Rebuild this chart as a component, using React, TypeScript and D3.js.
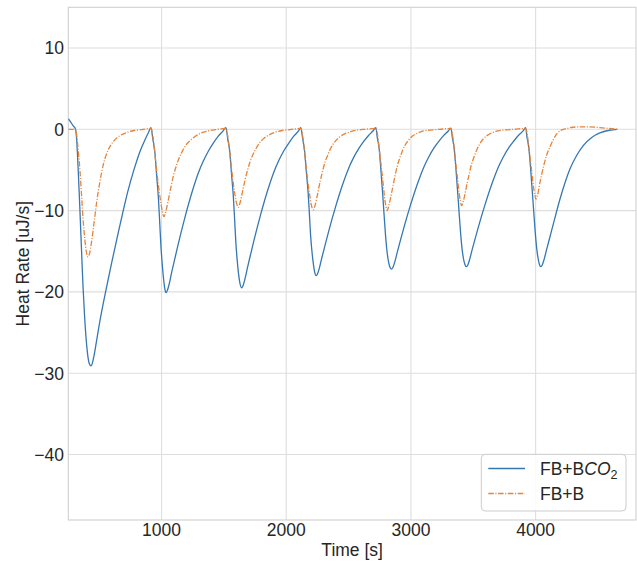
import React from "react";
import * as d3 from "d3";

// ---------- data ----------
const seriesNames = ["FB+BCO2", "FB+B"];

const timeBCO2: number[] = [
  252, 270, 290, 310, 320, 330, 340, 350, 360, 370, 382, 395, 408, 420, 434, 446, 459, 480, 504, 530, 551, 600, 650, 688, 730, 780, 830, 870, 895, 915,
  930, 947, 960, 974, 985, 995, 1005, 1014, 1024, 1035, 1047, 1060, 1081, 1105, 1134, 1188, 1241, 1294, 1335, 1375, 1415, 1455, 1490, 1516,
  1531, 1548, 1561, 1575, 1586, 1596, 1606, 1616, 1628, 1642, 1654, 1667, 1688, 1712, 1741, 1795, 1848, 1901, 1942, 1982, 2022, 2062, 2097, 2117,
  2131, 2148, 2161, 2175, 2186, 2196, 2206, 2216, 2227, 2240, 2252, 2265, 2286, 2310, 2339, 2393, 2446, 2499, 2540, 2580, 2620, 2660, 2695, 2719,
  2729, 2746, 2760, 2773, 2785, 2797, 2808, 2818, 2830, 2845, 2857, 2870, 2891, 2915, 2944, 2998, 3051, 3104, 3145, 3185, 3225, 3265, 3300, 3321,
  3331, 3348, 3362, 3375, 3387, 3399, 3410, 3420, 3432, 3445, 3457, 3470, 3491, 3515, 3544, 3598, 3651, 3704, 3745, 3785, 3825, 3865, 3900, 3920,
  3930, 3947, 3961, 3974, 3986, 3998, 4009, 4019, 4030, 4042, 4054, 4067, 4088, 4112, 4141, 4195, 4235, 4275, 4330, 4382, 4450, 4515, 4590, 4655,
];
const heatBCO2: number[] = [
  1.3, 0.9, 0.45, 0.0, -1.5, -4.5, -8.0, -11.8, -15.6, -19.3, -22.8, -25.8, -27.8, -28.8, -29.1, -28.7, -27.8, -25.9, -23.7, -21.6, -20.0, -16.4, -12.9, -10.3, -7.6, -4.9, -2.6, -1.2, -0.4, 0.2,
  -1.2, -2.95, -5.6, -8.3, -11.4, -14.4, -16.5, -18.1, -19.4, -20.1, -19.8, -19.1, -17.6, -16.0, -14.1, -10.8, -7.9, -5.4, -3.9, -2.7, -1.7, -0.85, -0.25, 0.2,
  -1.2, -2.9, -5.5, -8.1, -11.1, -14.0, -16.0, -17.6, -18.9, -19.5, -19.21, -18.53, -17.08, -15.52, -13.67, -10.47, -7.66, -5.25, -3.78, -2.61, -1.66, -0.82, -0.23, 0.2,
  -1.1, -2.8, -5.2, -7.7, -10.5, -13.2, -15.0, -16.4, -17.5, -18.0, -17.73, -17.1, -15.77, -14.33, -12.62, -9.67, -7.07, -4.84, -3.49, -2.41, -1.53, -0.76, -0.22, 0.2,
  -0.9, -2.5, -5.2, -7.9, -10.6, -13.2, -15.0, -16.1, -16.9, -17.2, -16.94, -16.34, -15.07, -13.69, -12.06, -9.24, -6.76, -4.63, -3.34, -2.3, -1.46, -0.72, -0.21, 0.15,
  -0.9, -2.5, -5.1, -7.8, -10.4, -12.9, -14.7, -15.8, -16.6, -16.9, -16.65, -16.06, -14.8, -13.45, -11.85, -9.08, -6.64, -4.55, -3.28, -2.26, -1.44, -0.71, -0.2, 0.2,
  -0.9, -2.5, -5.1, -7.8, -10.4, -12.9, -14.7, -15.8, -16.6, -16.9, -16.65, -16.06, -14.8, -13.4, -11.7, -8.6, -6.6, -4.9, -3.2, -2.0, -1.0, -0.45, -0.12, 0.0,
];

const timeB: number[] = [
  252, 280, 305, 315, 328, 346, 360, 372, 385, 396, 410, 422, 439, 460, 480, 505, 532, 570, 613, 665, 720, 780, 840, 915,
  934, 947, 960, 974, 987, 998, 1006, 1019, 1034, 1054, 1074, 1094, 1114, 1134, 1160, 1188, 1228, 1268, 1320, 1374, 1430, 1516,
  1535, 1548, 1561, 1574, 1587, 1597, 1605, 1615, 1630, 1650, 1670, 1690, 1710, 1730, 1756, 1784, 1822, 1862, 1914, 1968, 2030, 2117,
  2136, 2149, 2162, 2175, 2188, 2198, 2206, 2217, 2232, 2252, 2272, 2292, 2312, 2332, 2358, 2386, 2424, 2464, 2516, 2570, 2630, 2719,
  2738, 2751, 2765, 2777, 2788, 2797, 2809, 2824, 2849, 2869, 2889, 2909, 2929, 2955, 2982, 3015, 3050, 3100, 3156, 3230, 3321,
  3338, 3351, 3364, 3376, 3387, 3396, 3406, 3421, 3446, 3466, 3486, 3506, 3526, 3552, 3580, 3613, 3648, 3698, 3754, 3830, 3920,
  3937, 3950, 3963, 3975, 3985, 3994, 4002, 4017, 4034, 4048, 4068, 4088, 4114, 4141, 4168, 4195, 4249, 4300, 4355, 4430, 4515, 4590, 4655,
];
const heatB: number[] = [
  0, 0, 0, -0.3, -2.0, -5.2, -8.5, -11.4, -13.6, -15.0, -15.7, -15.3, -13.8, -11.3, -8.9, -6.5, -4.4, -2.6, -1.5, -0.8, -0.4, -0.15, -0.05, 0.1,
  -1.3, -3.1, -5.0, -6.8, -8.3, -9.4, -10.1, -10.75, -10.1, -8.7, -7.2, -5.8, -4.7, -3.8, -2.9, -2.1, -1.4, -0.9, -0.45, -0.2, -0.05, 0.1,
  -1.3, -3.0, -4.8, -6.5, -7.9, -8.8, -9.3, -9.6, -9.0, -7.6, -6.2, -5.0, -4.0, -3.2, -2.4, -1.7, -1.1, -0.7, -0.35, -0.15, -0.05, 0.1,
  -1.3, -3.1, -5.0, -6.7, -8.1, -9.1, -9.6, -9.9, -9.3, -7.9, -6.4, -5.1, -4.0, -3.2, -2.3, -1.6, -1.0, -0.6, -0.3, -0.1, 0.0, 0.1,
  -1.3, -3.1, -5.0, -6.7, -8.3, -9.3, -10.0, -9.3, -7.5, -6.0, -4.6, -3.6, -2.75, -1.9, -1.3, -0.8, -0.5, -0.2, -0.1, 0.0, 0.1,
  -1.2, -3.0, -4.8, -6.4, -7.9, -8.8, -9.4, -8.8, -7.0, -5.6, -4.3, -3.4, -2.6, -1.8, -1.2, -0.75, -0.45, -0.2, -0.08, 0.0, 0.1,
  -1.1, -2.8, -4.5, -6.0, -7.3, -8.1, -8.6, -8.0, -6.6, -5.6, -4.3, -3.2, -2.2, -1.3, -0.6, -0.2, 0.1, 0.25, 0.3, 0.3, 0.2, 0.1, 0.0,
];

const xTicks = [1000, 2000, 3000, 4000];
const yTicks = [10, 0, -10, -20, -30, -40];
const xDomain: [number, number] = [252, 4805];
const yDomain: [number, number] = [-48.05, 15];

// ---------- layout ----------
const W = 637;
const H = 562;
const L = 68.3;
const R = 636;
const T = 7.3;
const B = 520;

const FONT = "'Liberation Sans', Arial, Helvetica, sans-serif";
const TEXT = "#262626";
const GRID = "#dedede";
const BLUE = "#3477b3";
const ORANGE = "#e5843a";
const DASH = "5.5,1.6,1.1,1.6";

export default function App() {
  const x = d3.scaleLinear().domain(xDomain).range([L, R]);
  const y = d3.scaleLinear().domain(yDomain).range([B, T]);

  const line = d3
    .line<[number, number]>()
    .x((d) => x(d[0]))
    .y((d) => y(d[1]))
    .curve(d3.curveMonotoneX);

  const dataA: [number, number][] = timeBCO2.map((t, i) => [t, heatBCO2[i]]);
  const dataB: [number, number][] = timeB.map((t, i) => [t, heatB[i]]);

  const fmt = (v: number) => (v < 0 ? "\u2212" + Math.abs(v) : String(v));

  const legX = 481.3;
  const legY = 454.3;
  const legW = 144.7;
  const legH = 56.7;

  return (
    <svg
      width={W}
      height={H}
      style={{ position: "absolute", left: 0, top: 0, background: "#fff" }}
      fontFamily={FONT}
    >
      <defs>
        <clipPath id="plotclip">
          <rect x={L} y={T} width={R - L} height={B - T} />
        </clipPath>
      </defs>
      <rect x={0} y={0} width={W} height={H} fill="#fff" />
      {/* grid */}
      {xTicks.map((t) => (
        <line key={"gx" + t} x1={x(t)} x2={x(t)} y1={T} y2={B} stroke={GRID} strokeWidth={1.1} />
      ))}
      {yTicks.map((t) => (
        <line key={"gy" + t} x1={L} x2={R} y1={y(t)} y2={y(t)} stroke={GRID} strokeWidth={1.1} />
      ))}
      {/* spines */}
      <rect x={L} y={T} width={R - L} height={B - T} fill="none" stroke="#d0d0d0" strokeWidth={1.1} />

      {/* lines */}
      <g clipPath="url(#plotclip)">
        <path d={line(dataA) || ""} fill="none" stroke={BLUE} strokeWidth={1.3} strokeLinejoin="round" />
        <path
          d={line(dataB) || ""}
          fill="none"
          stroke={ORANGE}
          strokeWidth={1.3}
          strokeDasharray={DASH}
        />
      </g>

      {/* tick labels */}
      {xTicks.map((t) => (
        <text key={"tx" + t} x={x(t)} y={536} textAnchor="middle" fontSize={17.5} fill={TEXT}>
          {t}
        </text>
      ))}
      {yTicks.map((t) => (
        <text key={"ty" + t} x={64} y={y(t) + 6.3} textAnchor="end" fontSize={17.5} fill={TEXT}>
          {fmt(t)}
        </text>
      ))}

      {/* axis labels */}
      <text x={(L + R) / 2} y={556} textAnchor="middle" fontSize={17.5} fill={TEXT}>
        Time [s]
      </text>
      <text
        transform={`translate(29, ${(T + B) / 2}) rotate(-90)`}
        textAnchor="middle"
        fontSize={17.5}
        fill={TEXT}
      >
        Heat Rate [uJ/s]
      </text>

      {/* legend */}
      <rect
        x={legX}
        y={legY}
        width={legW}
        height={legH}
        rx={4}
        ry={4}
        fill="#ffffff"
        fillOpacity={0.85}
        stroke="#cccccc"
        strokeWidth={1}
      />
      <line x1={488.3} x2={525} y1={468.5} y2={468.5} stroke={BLUE} strokeWidth={1.3} />
      <line x1={488.3} x2={525} y1={493.5} y2={493.5} stroke={ORANGE} strokeWidth={1.3} strokeDasharray={DASH} />
      <text x={540} y={474.5} fontSize={17.5} fill={TEXT}>
        FB+B
        <tspan fontStyle="italic">CO</tspan>
        <tspan fontSize={12.5} dy={4}>2</tspan>
      </text>
      <text x={540} y={499.5} fontSize={17.5} fill={TEXT}>
        {seriesNames[1]}
      </text>
    </svg>
  );
}
